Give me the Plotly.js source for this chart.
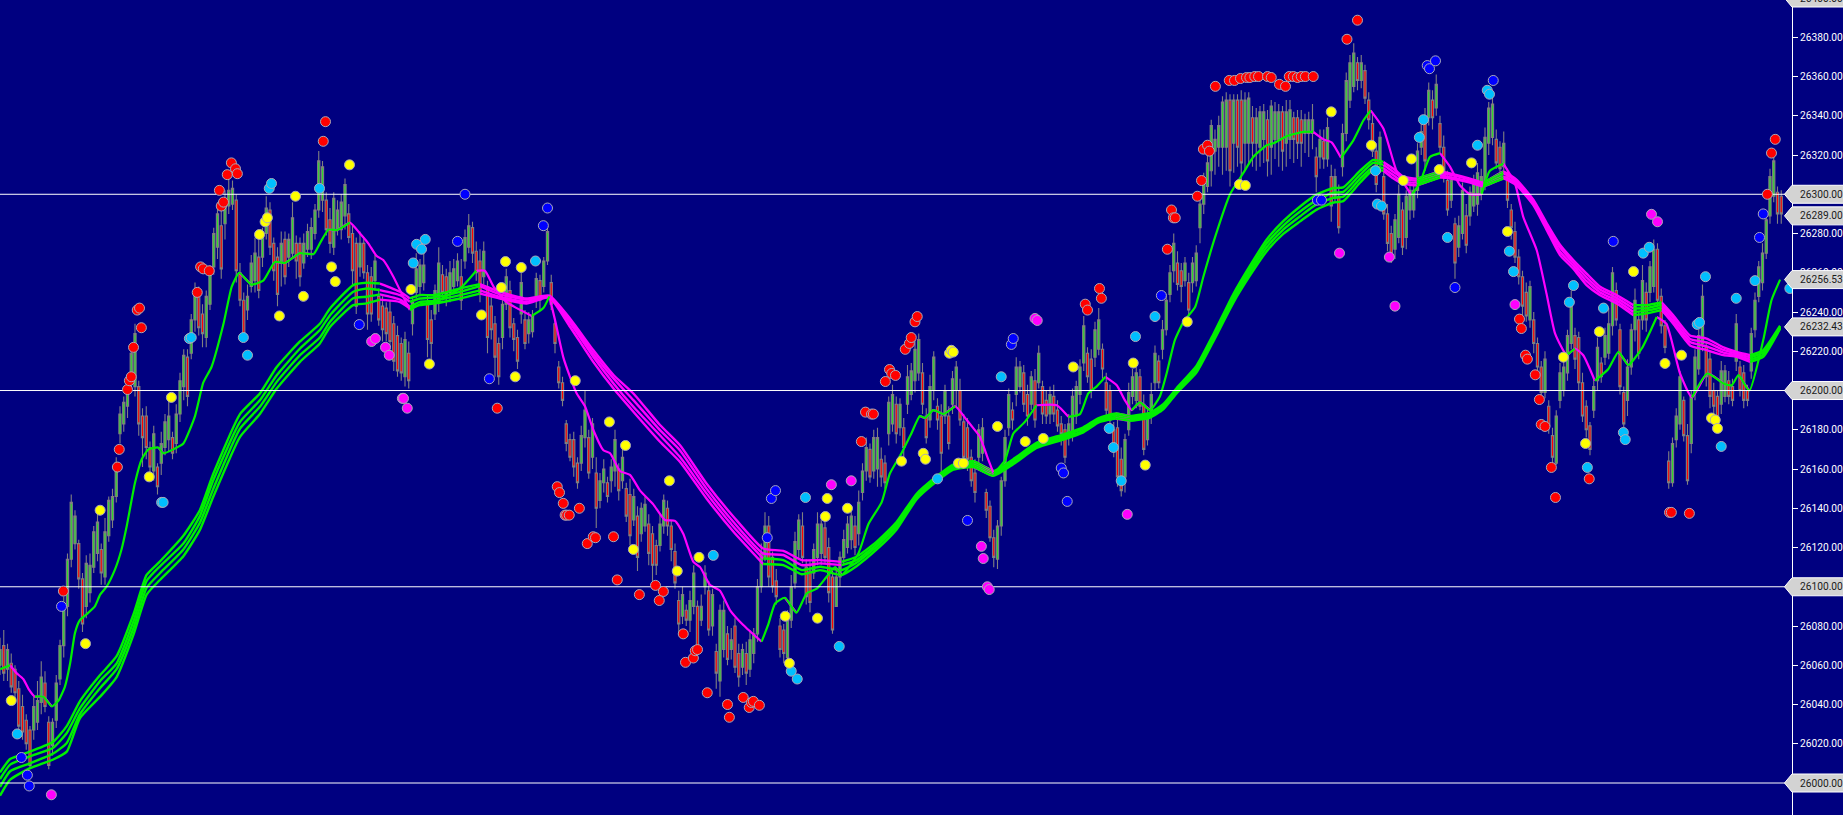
<!DOCTYPE html>
<html><head><meta charset="utf-8">
<script src="https://cdn.plot.ly/plotly-3.0.1.min.js"></script>
<style>html,body{margin:0;padding:0;background:#000080;overflow:hidden}#c{width:1843px;height:815px}</style>
</head><body><div id="c"></div>
<script>
const priceBase = 26000;
const bodyTop = [68,70,68,61,58,48,39,32,27,39,
42,54,51,31,31,51,70,90,114,143,
136,122,104,112,111,128,133,119,128,144,
146,163,188,194,200,219,229,202,187,187,
171,178,161,173,184,187,176,188,205,218,
217,236,251,251,239,248,260,280,290,284,
297,302,303,297,260,246,248,265,270,268,
280,293,292,275,268,275,277,277,288,275,
275,275,281,283,292,317,314,297,287,298,
292,296,305,290,280,275,275,275,260,258,
266,248,243,242,240,234,228,224,226,219,
245,262,264,264,245,236,251,265,259,258,
260,262,266,258,278,284,283,271,266,271,
253,243,234,224,244,258,251,234,227,255,
236,236,238,257,256,266,281,255,234,212,
204,183,175,175,163,177,190,176,183,158,
154,160,153,161,175,160,166,150,147,146,
136,140,142,132,127,121,132,144,140,131,
118,93,96,88,93,107,90,90,107,98,
96,67,88,88,76,73,80,66,68,66,
73,76,100,117,131,131,115,103,80,78,
83,100,123,134,131,110,108,119,132,132,
130,120,105,105,115,124,132,136,131,143,
159,171,170,176,176,165,163,194,198,193,
193,181,207,210,221,226,209,187,202,217,
192,187,200,187,206,212,200,184,181,166,
158,180,181,148,141,125,131,154,176,198,
190,212,212,209,198,207,205,219,202,195,
198,197,190,183,180,183,197,202,212,233,
219,216,231,236,221,204,200,180,181,165,
175,199,207,209,207,193,188,198,219,215,
231,246,260,275,265,261,265,255,265,270,
295,307,316,335,328,335,347,348,348,348,
348,348,348,349,339,339,342,342,338,345,
342,342,342,342,343,339,339,338,338,338,
338,319,328,327,334,309,309,299,331,358,
367,372,367,367,363,348,336,322,329,309,
290,280,287,300,292,299,302,302,322,332,
338,353,348,356,336,324,307,307,285,284,
302,289,301,306,311,309,329,344,346,328,
324,326,309,292,281,268,258,250,253,236,
224,212,216,192,177,187,209,212,228,243,
228,227,204,192,182,202,222,214,228,234,
260,251,231,199,212,231,246,236,256,250,
263,272,272,248,233,164,173,187,207,195,
177,197,217,228,248,222,216,200,197,210,
210,205,202,234,212,209,200,229,246,263,
270,287,309,317,301,299];
const bodyBottom = [60,56,58,49,46,29,26,20,9,27,
31,41,39,9,19,32,53,70,90,114,
122,104,81,90,97,110,117,107,105,126,
134,146,178,183,192,204,202,183,176,171,
161,159,151,163,171,175,168,173,188,202,
197,219,236,232,229,227,244,263,273,262,
285,294,295,261,246,229,241,253,256,251,
268,280,273,261,249,265,258,268,270,266,
258,265,272,272,280,292,297,282,275,273,
282,282,289,278,261,243,263,260,239,239,
256,236,231,229,225,215,210,209,207,205,
234,250,253,255,226,224,239,245,250,249,
250,253,256,246,266,273,270,260,250,258,
227,231,217,207,227,244,232,226,215,239,
224,229,230,246,246,253,266,244,224,204,
195,173,166,161,153,163,176,158,166,140,
144,153,146,154,159,149,154,136,126,134,
115,127,131,117,111,111,121,131,131,119,
102,81,85,83,83,90,68,83,100,78,
80,56,52,68,63,68,59,54,59,56,
58,66,76,100,115,105,100,95,68,66,
64,83,102,119,115,95,92,107,115,117,
115,97,78,90,105,115,120,124,120,127,
148,159,156,159,160,156,153,178,183,178,
181,171,193,198,205,209,193,176,185,200,
185,168,187,173,193,200,185,166,165,154,
148,166,168,139,125,115,114,131,154,181,
185,198,202,193,187,193,185,204,188,187,
188,188,182,178,166,177,177,187,198,214,
207,200,217,221,211,190,185,170,156,149,
156,180,197,195,192,170,175,188,204,204,
221,231,249,261,254,253,256,241,255,256,
283,295,304,312,322,324,324,324,312,326,
324,316,326,326,326,326,324,328,317,324,
328,328,322,326,328,328,326,326,331,331,
331,309,319,318,318,294,299,283,314,331,
348,355,358,358,349,338,322,305,316,290,
275,268,272,278,273,278,292,292,302,324,
317,339,339,344,324,311,292,297,265,273,
280,274,289,294,295,300,306,326,329,316,
313,314,297,283,268,258,243,238,236,224,
212,199,199,182,166,163,195,200,209,224,
216,204,187,180,170,190,205,207,217,219,
233,236,202,183,195,212,231,219,236,236,
250,253,246,233,222,153,153,175,183,177,
154,173,199,211,224,207,197,192,185,193,
197,197,195,215,200,195,195,210,231,248,
255,270,289,299,290,290];
const upperWick = [6,8,3,5,2,4,6,3,2,5,
10,8,6,3,2,4,3,5,3,4,
3,2,3,4,6,3,5,3,7,2,
4,3,4,3,4,3,5,3,4,5,
3,4,2,6,4,8,3,5,4,3,
4,3,4,2,5,3,4,3,6,8,
5,9,4,3,5,4,6,4,8,9,
3,6,4,3,5,6,4,3,8,4,
3,5,4,5,3,5,3,4,6,3,
5,4,3,5,4,3,6,3,4,5,
3,4,5,3,6,4,5,3,4,6,
3,8,3,9,4,5,3,8,5,4,
6,5,4,9,4,6,3,5,6,5,
3,6,4,3,5,4,5,3,4,5,
5,4,3,3,3,2,3,4,2,3,
3,2,3,4,3,5,10,4,3,8,
4,5,3,4,5,3,5,3,8,4,
5,3,4,5,4,3,5,3,4,3,
4,5,4,3,5,4,3,6,4,5,
3,4,3,5,4,6,4,5,3,6,
5,3,4,5,7,5,3,6,4,3,
5,6,5,3,7,4,5,3,6,5,
4,5,3,4,3,5,4,3,5,6,
4,5,3,4,5,6,4,3,5,4,
3,5,6,4,5,3,5,4,6,3,
4,6,3,5,4,3,6,4,5,4,
7,3,5,2,3,4,3,2,4,3,
4,5,3,4,5,3,6,4,3,5,
4,6,5,4,3,5,4,3,4,5,
3,5,4,6,3,5,3,4,5,6,
3,5,4,3,4,5,3,6,4,3,
5,3,4,5,6,4,3,5,3,4,
5,4,6,3,5,5,3,4,3,3,
3,5,4,3,6,5,3,4,5,3,
5,4,3,6,5,3,4,5,3,4,
8,5,5,6,5,6,4,6,5,4,
4,5,3,4,3,4,5,4,3,6,
5,4,3,5,4,3,6,4,4,5,
6,4,5,5,4,6,5,4,3,5,
4,6,3,4,5,4,5,3,4,5,
3,6,4,3,5,4,3,5,3,4,
3,3,4,3,4,3,5,4,3,8,
4,3,5,3,2,4,5,3,4,8,
3,4,3,3,4,3,6,4,8,5,
3,5,3,4,3,5,3,4,3,2,
6,3,4,3,6,3,4,4,3,5,
3,5,4,5,3,4,3,3,4,3,
5,3,4,5,3,3];
const lowerWick = [5,4,6,3,5,6,4,3,2,5,
4,6,3,2,5,4,3,6,5,4,
3,5,4,6,5,3,4,6,4,3,
4,3,5,4,6,3,5,6,15,6,
5,5,4,6,4,6,3,5,4,7,
5,3,6,4,7,5,3,4,6,5,
8,4,3,6,3,4,5,3,6,4,
5,3,4,5,6,12,4,5,3,9,
5,3,4,5,3,4,6,3,5,4,
3,5,7,3,8,4,5,3,8,4,
5,3,6,4,3,5,3,4,5,4,
6,3,5,4,9,8,3,5,4,6,
5,4,3,5,4,3,5,4,5,4,
8,5,10,4,6,3,5,6,4,5,
3,5,3,4,5,3,2,3,5,3,
3,4,2,5,3,4,5,3,6,10,
4,5,3,6,8,5,4,3,5,3,
7,4,3,6,8,5,3,4,5,6,
3,5,4,3,6,4,5,3,4,3,
5,8,8,4,3,5,3,5,4,6,
4,5,4,3,2,5,3,4,4,5,
3,4,3,5,3,4,5,3,4,6,
3,5,2,0,5,4,3,5,4,6,
4,5,3,4,9,5,3,6,4,5,
4,7,5,3,6,4,5,3,4,5,
5,10,4,3,5,8,3,4,6,3,
5,3,4,4,2,5,5,5,3,4,
5,6,3,4,5,3,4,3,5,4,
5,4,3,6,3,5,3,4,5,4,
3,4,5,3,5,4,6,4,5,3,
8,3,4,4,2,3,3,5,4,3,
5,3,4,6,3,8,3,8,5,3,
8,5,3,8,12,10,14,12,8,15,
10,12,14,10,12,14,10,12,8,14,
10,14,10,12,10,12,8,12,10,12,
8,8,6,5,4,8,3,3,5,4,
4,3,5,4,3,5,3,4,5,3,
4,3,5,3,4,6,5,4,4,4,
5,4,6,4,3,5,3,4,8,5,
3,4,5,3,6,3,4,6,4,3,
5,3,4,6,3,4,5,3,4,5,
3,4,3,4,3,1,4,3,4,3,
5,4,3,4,3,4,5,3,4,3,
5,3,4,2,8,4,6,3,5,6,
5,3,3,4,3,3,2,4,3,3,
2,5,4,3,4,5,6,4,3,5,
3,4,3,5,3,4,3,4,4,3,
4,3,4,3,5,5];

const fastX = [0,2.7,4.4,6.2,7.6,9.3,11.6,13.8,15.6,17.3,18.7,20,21.3,23.1,25.3,26.7,28.4,30.7,32.4,33.8,36,37.8,39.6,42.2,43.6,46.7,48.9,52,54.2,56.4,59.6,61.8,63.8,67,70.2,73.3,76,80,83.6,85.3,87.6,89.8,93.3,96,98.2,100.4,102.2,104.9,106.7,109.3,112,115.6,122.7,127,129.3,131.6,135.1,137.8,141.8,144.9,146.5,148,150.2,152,153.8,156,158.2,160.9,162.7,165.3,168,170.7,174.2,177.3,180,182.2,184.9,186.7,189.3,192,194.7,198.2,203.1,204.9,206.7,209.3,212.4,215.1,217.8,220.4,222.7,224.4,228.9,231.6,235.1,237.3,240.4,243,245.3,246.7,248.9,251.6,254.7,257.8,259.6,261.3,263.6,265,268,270.2,273.3,276.4,281.8,284.9,288,290.2,292.4,294.8,297.8,300,301.8,304,306.7,309.3,311.1,313.3,315.6,318.7,320.9,324,328,331.6,334.2,337.8,339.6,343.1,347.6,350.2,352.9,355.1,357.6,360.9,363.6,365.5,368.9,372.4,376.4,378.7,381.3,384,386.7,389.3,392,395.1,397.3,400.9,404,406.2,409.8,412.4,414.7,417.8,420,422.2,425.3,428.9,431.6,434.2,437.8,441.8,444.4,448,451.2,455.3,459.6,461.8,463.6,466.5,470.2,472.4,474.7];
const fastY = [58,60,56,53,48,44,44,39,42,49,61,76.5,83,86,90,96,100,109,119,131,153,165,170,171,168,170.5,173,187,204,212,234,253,260,254,256,265.5,265,270,269.5,275,282,281.7,285.6,280,275,268.6,266.5,258,251,241,244,245,252,261,261,253,245,242,238,242,248,236,217,207,198.5,192,180,169.6,168,159,157,149,142,134,133.6,127,112.7,110,101,98,88,80.5,72,81,91.5,94.4,86.8,96.6,99,105,110,106,117,132,143,157.7,168,178,187,186,190,188,192,185,180.7,176.4,164.5,157.7,164.5,178,184,192.5,192.5,186.6,188,198.5,202,207,202.7,195,190,194,190,197,208.7,225.7,235,242.6,258,278,300,311,319,325,326,329.6,331.8,331.8,328,326.5,318.6,327.5,337.7,342.8,333.5,312,299.5,306,319,321,314,304.6,300,300,312,315.6,305.5,288.5,271.5,249.4,229,218,221.4,218,205,211,219.7,213,221.4,237.5,234,208.7,196.5,208.7,203.6,202.7,207.8,200,225.7,246,256.5];
const fastUp = [1,0,0,0,0,1,0,1,1,1,1,1,1,1,1,1,1,1,1,1,1,1,1,0,1,1,1,1,1,1,1,1,0,1,1,0,1,0,1,1,0,1,0,0,0,0,0,0,0,1,1,1,1,0,0,0,0,0,1,1,0,0,0,0,0,0,0,0,0,0,0,0,0,0,0,0,0,0,0,0,0,0,1,1,1,0,1,1,1,1,0,1,1,1,1,1,1,1,0,1,0,1,0,0,0,0,0,1,1,1,1,0,0,1,1,1,1,0,0,0,1,0,1,1,1,1,1,1,1,1,1,1,1,1,1,1,1,0,0,0,1,1,1,0,0,0,1,1,1,0,0,0,0,1,1,0,0,0,0,0,0,1,0,0,1,1,0,1,1,0,0,0,1,0,1,1,0,1,1,1,1];

const ribX = [0,2.7,8,14.2,17.8,21.3,26.7,31.1,35.6,39.1,42.7,48.9,53.3,56.9,64,69.3,73.8,80,85.3,88,94.2,97.8,101.3,106.7,109.3,112,115.6,122.7,128,133.3,140.4,146.5,152,158.2,163.6,168.9,176,181.3,188.4,195.6,203.5,208.9,213.8,218.7,224.4,228.4,233.8,239.1,244.4,249.8,254.2,259.6,264.9,270.2,276.4,283.6,288.9,293,297.5,301.3,306.7,310.2,313.8,319.1,323.6,328.9,333.3,337.8,342.2,346.7,351.1,355.6,358.2,362.7,366.2,368.9,371.6,374.2,377.8,384,392,395.6,400.9,404.4,408.9,412.4,416,419.6,423.1,426.7,431.1,435.6,439.1,443.1,446.2,450.7,455.1,459.6,463.1,466.7,470.2,474.7];
const rib1 = [5.4,12.2,16,21,29,41.6,55,64.6,86,106,113,126,139,157.7,188,198.5,212,225,234,241.8,253.7,254.9,254.5,250.3,246.9,248.6,248.6,252,254.2,250.3,246.9,248.4,236.7,220.6,207.9,198.5,182.4,172.2,152.6,135.7,119.5,118.3,113.6,113.6,112.7,115.3,123,133,147.3,156.3,162.3,164,159,165,173.3,177.7,181.3,186,188.3,187,188.8,193,201.3,212.7,228.8,249.2,263.5,277,286.3,293.8,299.8,303.2,303.5,312,317.5,316.5,313,309,308,311.5,308,306,311.5,307.5,297.2,285.5,274.3,266.4,259.6,252.9,248.6,243.5,243.5,245,238.4,228,226.5,222,219.7,218,220.6,233];
const rib2 = [2,9.4,13.6,18,25.5,38,52,61,82.5,103,110.5,122,136,154.4,184,195,207.8,221.4,230.8,238.4,250.3,252,251.2,248.6,245.2,246.9,247.4,250.3,253.2,249,246.4,248,235.9,218.9,206.2,195.1,179.8,169.6,150,133,117,116.2,111,111.9,111,113.6,121.7,131.9,146.5,155.5,161.5,163,158,164.2,172.5,176.9,180.5,185.3,187.5,186.2,188,192.2,200.5,211.7,227.8,247.8,261.8,275,284,291.2,297,300.8,301.2,310,316,315,311.4,308,307,310.5,307.5,305.3,310.5,306.5,296.3,284.5,272.8,265,257.7,251.5,247.2,241.8,242,243.7,237,226.3,224.5,220.7,218.8,216.9,219.5,232.5];
const rib3 = [-2,6,10,15,20.4,35,48.4,58,79,99.5,107,119,132.6,150,180.6,191.7,204.4,218,227,235,247,247.8,249,246.3,242.7,245.2,245.7,248.6,251,247.7,245.2,247.7,234.5,217.2,203.6,191.7,177.2,166.2,147.6,130.6,114.4,113.6,108.5,110.2,108.5,112.2,120.4,130.6,145.5,154.5,160.5,162,157.3,163.2,171.5,175.9,179.5,184.5,186.5,185.4,187,191.2,199.5,210.3,226.2,246.2,260.2,273,282,288.8,295,298.2,298.8,308,314,313.3,309.7,306.3,306,309.5,306.5,304.6,309,305.5,295.5,283.2,270.7,263.5,255.7,250,245.8,240,240.7,242.3,235.4,224.7,222.5,219.3,218,215.7,218.3,232];
const rib4 = [-6.5,1.7,7.6,12,16,33,44,54,75.6,96,103.6,115.6,129,146,176.4,188,201,214.6,224,232.4,243.5,244.4,246.3,245.1,241.8,243.5,244.3,246.9,249.4,246.9,244.3,247.4,232.5,214.6,201,189.2,173.9,163.7,145,128,111.6,111,106.4,108.5,106,110.5,119,129.2,144.5,153.7,159.7,161,156.5,162.4,170.7,175,178.7,183.7,185.7,184.6,186.2,190.4,198.7,209.3,225.2,244.8,258.5,271,279.8,286.2,292.2,295.8,296.5,306,312.5,312,308,305.4,304.6,308.5,306,304,308,304.6,294.5,282,269,262,253.7,248.6,244.4,238.4,239.3,241,234,223,220.6,218,217.2,214.6,217.2,231.5];
const ribGreen = [4,4,4,4,4,4,4,4,4,4,4,4,4,4,4,4,4,4,4,4,4,4,0,0,4,4,4,4,0,0,0,0,0,0,0,0,0,0,0,0,2,2,2,2,4,4,4,4,4,4,4,0,4,4,4,4,4,4,0,4,4,4,4,4,4,4,4,4,4,4,4,4,4,4,4,0,0,0,4,0,0,4,0,0,0,0,0,0,0,0,0,4,4,0,0,0,0,0,0,4,4,4];

const redX = [16.9,31.3,31.8,35.6,34,34.5,35,36.6,37.2,37.7,52.6,53.5,54.2,55.8,58.5,59,59.6,60.6,61.7,62.8,63.3,86.2,86.8,132.6,148.6,149.2,150.2,150.7,151.1,151.8,154.5,156.6,158.2,158.8,163.6,164.6,174.8,176.9,175.8,170.5,182.2,182.8,184.9,185.4,186,188.6,194,194.5,198.2,199.8,200.4,200.9,202.5,229.7,230.8,232.4,232.9,236.1,237.2,237.8,238.8,241.4,242.5,243,244,244.6,289.4,290,293.2,293.7,311.3,312.4,312.9,313.4,319.3,320.4,320.9,322,322.5,324.1,327.8,329.2,330.8,332.4,333.3,334.6,335.6,338,339,341.2,342.8,343.8,344.9,346,347,348.1,350.2,359.2,362,405.2,405.7,406.8,407.3,409.4,410.5,411,412,413.7,414.8,423.8,445.2,445.7,450.5,471.3,472.4,473.4];
const redY = [97.8,161,170,222,200.5,205,207,241,242,232,250,263,262,261,302,294,296,310,316,313,310.5,327,337,191,151,148,142.5,136.5,136.5,136.5,140,122,125.5,125,125.5,103.5,100.7,97.6,93,96,76,61.5,63.7,67.4,68,46,40,33.5,43.6,38.5,41,41.6,39.6,174,189,188,188,204.6,210.7,208.7,207.7,221,224,227,235,237.7,244,241,252,247,272,292,288,288,299,307,323,325,322,355,358,358,359,359.5,359.5,360,360,360,359.5,356,355,360,360,359.5,360,360,360,379,388.7,236.4,231.6,218,216,208,195.4,182.7,181.7,160.8,145.5,155,137.9,137.9,137.4,300,321,328];
const yellowX = [3,22.8,26.7,39.8,45.7,69.2,70.7,71.3,74.5,78.8,80.9,88.4,89.4,93.2,109.6,114.5,128.4,133.7,134.8,137.4,139,153.4,162.5,166.8,168.9,178.5,180.6,186.4,209.4,210.5,218,220.1,220.6,226,240.4,246.2,246.8,253.2,253.7,254.2,255.6,256.9,266,273.4,278.2,286.2,302.2,305.4,316.6,330.5,332.1,355,365.7,374.2,376.4,383.8,392.4,402,416.9,422.8,426.5,435.6,444,448.4,456.4,457.4,458];
const yellowY = [42,71,139,156,196.5,279.5,286,288,238,299,248,263,255.5,315,251.5,213.5,238.5,252.5,265.7,207,262.7,205,184,172,119,154,108,115,85,61,84,135.8,145,140,164,168,165,219,220.5,219.6,163,163,181.7,174,175.6,212,214,162,235,305,304.5,342,325,307,318,312.6,316,281,217,173,230,260.6,213.8,218,186,185,180.7];
const cyanX = [4.6,43.1,43.5,50.5,51,64.9,66,71.8,72.4,85.2,110.2,111.1,112.4,113.4,142.8,190.2,211,212.6,214.8,223.8,250,267,295.8,296.9,299,302.8,308,366.8,367.3,368.4,378.5,379.6,386,394,396.6,397.2,402.5,403.6,418.5,419.6,423.3,427.6,432.9,433.4,438.2,439.8,452.6,453.2,454.8,459,463,468,477.3];
const cyanY = [25,143,143,226.5,227,227,218,303,305.5,303,265,274.5,272,277,266,116,57,53,145.5,69.6,155,207,180.7,171,154,227.5,237.7,312,295,294,329,338,278,325,353,351,271,260.6,245,253.5,160.8,242,178.6,175,270,273,233.7,234.7,258,171.5,247,256,252];
const blueX = [5.7,7.3,7.8,16.4,95.8,122,124,130.5,144.9,146,204.6,205.7,206.8,258,269.7,270.2,283,283.6,284.6,309.7,351.3,352.4,380.6,381.2,382.8,388,398.2,430.2,469.2,470.2];
const blueY = [13,4,-1.5,90,233.6,276,300,206,284,293,125,145,149,133.8,223.5,226.5,160.5,158,143.5,248.4,297,297,365.6,364,368,252.5,358,276,278,290];
const magentaX = [13.7,99.1,100.1,102.8,103.8,107.3,107.6,108.6,221.7,227,261.7,262.2,263.3,263.8,276,276.6,300.6,357.2,370.5,372,404,440.4,442];
const magentaY = [-6,225,226.5,222,218,196,196,191,152,154,120.6,114.4,100,98.6,236.7,235.7,136.9,270,268,243,243.8,289.8,286];

const levelLines = [26000,26100,26200,26300];
const priceLabels = [26300,26289,26256.53,26232.43,26200,26100,26000];
const topLabel = 26400;

const n = bodyTop.length;
const barX=[], op=[], cl=[], hi=[], lo=[];
for(let i=0;i<n;i++){
  const mid=(bodyTop[i]+bodyBottom[i])/2;
  const prev=i?(bodyTop[i-1]+bodyBottom[i-1])/2:mid;
  const up=mid>=prev;
  barX.push(i);
  op.push(priceBase+(up?bodyBottom[i]:bodyTop[i]));
  cl.push(priceBase+(up?bodyTop[i]:bodyBottom[i]));
  hi.push(priceBase+bodyTop[i]+upperWick[i]);
  lo.push(priceBase+bodyBottom[i]-lowerWick[i]);
}
const GREEN='#00f000', MAG='#ff00ff';
function segTrace(xs,ys,flag,color,width){
  const y=ys.map((v,j)=>(flag(j)||(j>0&&flag(j-1)))?priceBase+v:null);
  return {type:'scatter',mode:'lines',x:xs,y:y,line:{color:color,width:width,shape:'spline',smoothing:0.5},connectgaps:false,hoverinfo:'skip',showlegend:false};
}
const traces=[{type:'candlestick',x:barX,open:op,high:hi,low:lo,close:cl,
  increasing:{line:{color:'#808080',width:1.1},fillcolor:'#2ed62e'},
  decreasing:{line:{color:'#808080',width:1.1},fillcolor:'#ff0000'},
  whiskerwidth:0,hoverinfo:'skip',showlegend:false}];
[rib1,rib2,rib3,rib4].forEach((r,k)=>{
  traces.push(segTrace(ribX,r,j=>ribGreen[j]<4-k,MAG,2.4));
  traces.push(segTrace(ribX,r,j=>ribGreen[j]>=4-k,GREEN,2.4));
});
traces.push(segTrace(fastX,fastY,j=>!fastUp[j],MAG,2.2));
traces.push(segTrace(fastX,fastY,j=>!!fastUp[j],GREEN,2.2));
levelLines.forEach(v=>traces.push({type:'scatter',mode:'lines',x:[0,479.9],y:[v,v],line:{color:'#ffffff',width:1},hoverinfo:'skip',showlegend:false,cliponaxis:false}));
[[blueX,blueY,'#0000ff'],[cyanX,cyanY,'#00bfff'],[magentaX,magentaY,'#ff00ff'],[yellowX,yellowY,'#ffff00'],[redX,redY,'#ff0000']].forEach(d=>{
  traces.push({type:'scatter',mode:'markers',x:d[0],y:d[1].map(v=>priceBase+v),cliponaxis:true,
    marker:{color:d[2],size:10,line:{color:'#a9a9b8',width:1}},hoverinfo:'skip',showlegend:false});
});
const FONT='Roboto,sans-serif', FS=10.2;
const shapes=[], annots=[];
function addLabel(v,yv,shift){
  shapes.push({type:'path',xref:'paper',yref:'y',xsizemode:'pixel',ysizemode:'pixel',xanchor:1,yanchor:yv,
    path:`M -7.5 ${shift} L 0 ${shift-9} L 52 ${shift-9} L 52 ${shift+9} L 0 ${shift+9} Z`,
    fillcolor:'#d3d3d3',line:{color:'#ffffff',width:1},layer:'above'});
  annots.push({xref:'paper',yref:'y',x:1,y:yv,xshift:8,yshift:shift,xanchor:'left',yanchor:'middle',showarrow:false,
    text:v.toFixed(2),font:{family:FONT,size:FS,color:'#1a1a1a'},borderpad:0,borderwidth:0});
}
addLabel(topLabel,26399,2);
priceLabels.forEach(v=>addLabel(v,v,0));
const layout={width:1843,height:815,margin:{l:0,r:51,t:0,b:0,pad:0},boxgap:0.15,
  paper_bgcolor:'#000080',plot_bgcolor:'#000080',showlegend:false,hovermode:false,
  xaxis:{range:[0,477.87],visible:false,rangeslider:{visible:false},fixedrange:true},
  yaxis:{range:[25983.7,26399],side:'right',dtick:20,tick0:26000,tickformat:'.2f',showgrid:false,zeroline:false,
    showline:true,linecolor:'#ffffff',linewidth:1,ticks:'outside',ticklen:5,tickwidth:1,tickcolor:'#ffffff',
    tickfont:{family:FONT,size:FS,color:'#ffffff'},fixedrange:true},
  shapes:shapes,annotations:annots};
Plotly.newPlot('c',traces,layout,{staticPlot:true,displayModeBar:false});
</script></body></html>
